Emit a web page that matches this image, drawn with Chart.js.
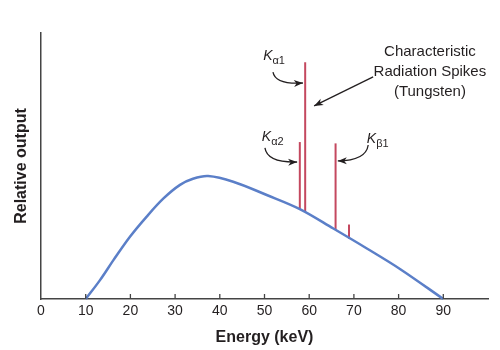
<!DOCTYPE html>
<html>
<head>
<meta charset="utf-8">
<script src="https://cdn.jsdelivr.net/npm/chart.js@4.4.0/dist/chart.umd.min.js"></script>
<style>
  html, body { margin: 0; padding: 0; background: #fff; }
  #wrap { width: 500px; height: 350px; }
</style>
</head>
<body>
<div id="wrap"><canvas id="spectrum" width="500" height="350"></canvas></div>
<script>
// continuous bremsstrahlung curve
const energyKeV = [10, 13.2, 16.2, 19.9, 23.6, 27.4, 31.1, 34, 37.4, 43, 50.5, 57.9, 65.4, 72.9, 80.3, 90];
const relativeOutput = [0, 7.1, 14.6, 23.4, 30.9, 37.8, 42.9, 45.2, 46.2, 44.1, 39.1, 33.8, 26.5, 19.0, 11.3, 0];

// characteristic lines (tungsten)
const spikeEnergy = [57.9, 59.1, 65.9, 68.9];
const spikeBase = [33.8, 32.8, 26.0, 22.6];
const spikeTop = [59, 89, 58.5, 28];

const xTickLabels = ['0', '10', '20', '30', '40', '50', '60', '70', '80', '90'];

const FONT = '"Liberation Sans", Arial, Helvetica, sans-serif';
const INK = '#231f20';
const CURVE = '#5b7fc8';
const SPIKE = '#c4485f';

const datasets = [{
  data: energyKeV.map((e, i) => ({ x: e, y: relativeOutput[i] })),
  showLine: true,
  borderColor: CURVE,
  borderWidth: 2.5,
  pointRadius: 0,
  tension: 0.35,
  clip: false
}];
spikeEnergy.forEach((e, i) => {
  datasets.push({
    data: [{ x: e, y: spikeBase[i] }, { x: e, y: spikeTop[i] }],
    showLine: true,
    borderColor: SPIKE,
    borderWidth: 2,
    pointRadius: 0,
    clip: false
  });
});

function arrowHead(ctx, x, y, angle) {
  ctx.save();
  ctx.translate(x, y);
  ctx.rotate(angle);
  ctx.beginPath();
  ctx.moveTo(0, 0);
  ctx.lineTo(-9, -3.5);
  ctx.lineTo(-6.5, 0);
  ctx.lineTo(-9, 3.5);
  ctx.closePath();
  ctx.fill();
  ctx.restore();
}

// labels with curved arrows, in data units
const kLabels = [
  { sub: 'α1', at: [49.7, 89.8], from: [51.9, 85.3], ctrl: [52.4, 80.6], to: [58.6, 81.2] },
  { sub: 'α2', at: [49.4, 59.4], from: [50.1, 56.8], ctrl: [50.6, 51.2], to: [57.3, 51.5] },
  { sub: 'β1', at: [72.9, 58.6], from: [73.2, 57.9], ctrl: [72.7, 52.0], to: [66.4, 51.9] }
];

const annotate = {
  id: 'annotate',
  afterDraw(chart) {
    const { ctx, scales: { x, y }, chartArea } = chart;
    const px = v => x.getPixelForValue(v);
    const py = v => y.getPixelForValue(v);

    ctx.save();
    // inward tick marks
    ctx.strokeStyle = '#444';
    ctx.lineWidth = 1.3;
    for (let v = 10; v <= 90; v += 10) {
      ctx.beginPath();
      ctx.moveTo(px(v), chartArea.bottom);
      ctx.lineTo(px(v), chartArea.bottom - 5);
      ctx.stroke();
    }

    ctx.fillStyle = INK;
    ctx.strokeStyle = INK;
    ctx.lineWidth = 1.3;
    ctx.textBaseline = 'alphabetic';
    ctx.textAlign = 'left';
    kLabels.forEach(k => {
      const lx = px(k.at[0]), ly = py(k.at[1]);
      ctx.font = 'italic 14px ' + FONT;
      ctx.fillText('K', lx, ly);
      const kw = ctx.measureText('K').width;
      ctx.font = '11px ' + FONT;
      ctx.fillText(k.sub, lx + kw, ly + 4);

      const x0 = px(k.from[0]), y0 = py(k.from[1]);
      const cx = px(k.ctrl[0]), cy = py(k.ctrl[1]);
      const x1 = px(k.to[0]), y1 = py(k.to[1]);
      ctx.beginPath();
      ctx.moveTo(x0, y0);
      ctx.quadraticCurveTo(cx, cy, x1, y1);
      ctx.stroke();
      arrowHead(ctx, x1, y1, Math.atan2(y1 - cy, x1 - cx));
    });

    // straight arrow + caption
    const ax0 = px(74.3), ay0 = py(83.5), ax1 = px(61.1), ay1 = py(72.6);
    ctx.beginPath();
    ctx.moveTo(ax0, ay0);
    ctx.lineTo(ax1, ay1);
    ctx.stroke();
    arrowHead(ctx, ax1, ay1, Math.atan2(ay1 - ay0, ax1 - ax0));

    ctx.font = '15px ' + FONT;
    ctx.textAlign = 'center';
    ctx.textBaseline = 'middle';
    const cap = ['Characteristic', 'Radiation Spikes', '(Tungsten)'];
    const capY = [92.9, 85.3, 77.8];
    cap.forEach((t, i) => ctx.fillText(t, px(87), py(capY[i])));
    ctx.restore();
  }
};

new Chart(document.getElementById('spectrum'), {
  type: 'scatter',
  data: { datasets },
  options: {
    responsive: false,
    animation: false,
    devicePixelRatio: 1,
    layout: { padding: { top: 33, right: 12, left: 0, bottom: 0 } },
    plugins: { legend: { display: false }, tooltip: { enabled: false } },
    scales: {
      x: {
        type: 'linear',
        min: 0,
        max: 100,
        afterFit: s => { s.height = 51; },
        grid: { display: false, drawTicks: false },
        border: { display: true, color: '#444', width: 1.5 },
        ticks: {
          stepSize: 10,
          padding: 4,
          color: INK,
          font: { family: FONT, size: 14 },
          callback: (v) => xTickLabels[v / 10] ?? ''
        },
        title: {
          display: true,
          text: 'Energy (keV)',
          color: INK,
          font: { family: FONT, size: 16, weight: 'bold' },
          padding: { top: 0, bottom: 3 }
        }
      },
      y: {
        min: 0,
        max: 100,
        afterFit: s => { s.width = 41; },
        grid: { display: false, drawTicks: false },
        border: { display: true, color: '#444', width: 1.5 },
        ticks: { display: false },
        title: {
          display: true,
          text: 'Relative output',
          color: INK,
          font: { family: FONT, size: 16, weight: 'bold' },
          padding: { top: 12, bottom: 0 }
        }
      }
    }
  },
  plugins: [annotate]
});
</script>
</body>
</html>
